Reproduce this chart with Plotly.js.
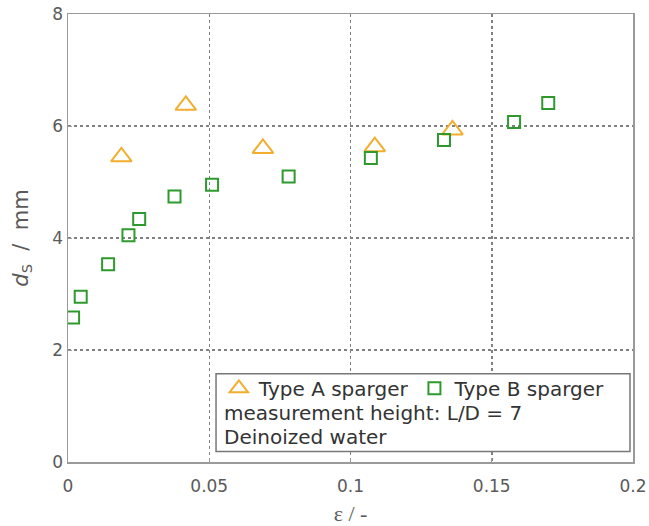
<!DOCTYPE html>
<html>
<head>
<meta charset="utf-8">
<script src="https://cdn.plot.ly/plotly-3.0.1.min.js"></script>
<style>html,body{margin:0;padding:0;background:#fff;}#chart{width:649px;height:526px;}</style>
</head>
<body>
<div id="chart"></div>
<script>
// Type A sparger
const typeA_eps = [0.0189, 0.0417, 0.069, 0.1086, 0.1361];
const typeA_ds  = [5.45, 6.37, 5.60, 5.63, 5.93];
// Type B sparger
const typeB_eps = [0.0018, 0.0045, 0.0142, 0.0214, 0.0252, 0.0377, 0.051, 0.0781, 0.1072, 0.1331, 0.1579, 0.170];
const typeB_ds  = [2.58, 2.95, 3.53, 4.05, 4.34, 4.74, 4.95, 5.10, 5.43, 5.75, 6.07, 6.41];
const xTicks = [0, 0.05, 0.1, 0.15, 0.2];
const xTickText = ['0', '0.05', '0.1', '0.15', '0.2'];
const yTicks = [0, 2, 4, 6, 8];

const font = 'DejaVu Sans, Liberation Sans, Arial, sans-serif';

const traces = [
  {x: typeA_eps, y: typeA_ds, type: 'scatter', mode: 'markers', name: 'Type A sparger',
   marker: {symbol: 'triangle-up-open', size: 18, color: '#F2AE2E', line: {width: 2, color: '#F2AE2E'}}},
  {x: typeB_eps, y: typeB_ds, type: 'scatter', mode: 'markers', name: 'Type B sparger',
   marker: {symbol: 'square-open', size: 12, color: '#2E9A2E', line: {width: 2, color: '#2E9A2E'}}}
];

const axisCommon = {
  showline: true, linecolor: '#9a9a9a', linewidth: 1.5, mirror: true,
  ticks: 'inside', ticklen: 4, tickcolor: '#9a9a9a',
  showgrid: true, gridcolor: '#808080', griddash: 'dot', gridwidth: 1.5,
  zeroline: false,
  tickfont: {family: font, size: 17, color: '#5a5a5a'}
};

const layout = {
  width: 649, height: 526,
  margin: {l: 68, r: 16, t: 14, b: 64},
  paper_bgcolor: '#fff', plot_bgcolor: '#fff',
  showlegend: true,
  xaxis: Object.assign({}, axisCommon, {
    range: [0, 0.2], tickvals: xTicks, ticktext: xTickText, ticklabelstandoff: 8,
    title: {text: 'ε / -', font: {family: 'Liberation Serif, Times New Roman, serif', size: 22, color: '#5a5a5a'}, standoff: 11}
  }),
  yaxis: Object.assign({}, axisCommon, {
    range: [0, 8], tickvals: yTicks,
    title: {text: '<i>d</i><sub>S</sub>&nbsp;&nbsp;/&nbsp;&nbsp;mm', font: {family: font, size: 21, color: '#5a5a5a'}, standoff: 18}
  }),
  legend: {
    orientation: 'h', x: 0.267, y: 0.208, xanchor: 'left', yanchor: 'top',
    bgcolor: 'rgba(0,0,0,0)', borderwidth: 0,
    font: {family: font, size: 20, color: '#333'}
  },
  shapes: [
    {type: 'rect', xref: 'paper', yref: 'paper', x0: 0.262, x1: 0.9947, y0: 0.0236, y1: 0.197,
     line: {color: '#777', width: 1.5}, fillcolor: '#fff', layer: 'above'}
  ],
  annotations: [
    {xref: 'paper', yref: 'paper', x: 0.2726, y: 0.11, xanchor: 'left', yanchor: 'middle', showarrow: false,
     text: 'measurement height: L/D = 7', font: {family: font, size: 20, color: '#333'}},
    {xref: 'paper', yref: 'paper', x: 0.2726, y: 0.0565, xanchor: 'left', yanchor: 'middle', showarrow: false,
     text: 'Deinoized water', font: {family: font, size: 20, color: '#333'}}
  ]
};

Plotly.newPlot('chart', traces, layout, {displayModeBar: false, staticPlot: true});
</script>
</body>
</html>
